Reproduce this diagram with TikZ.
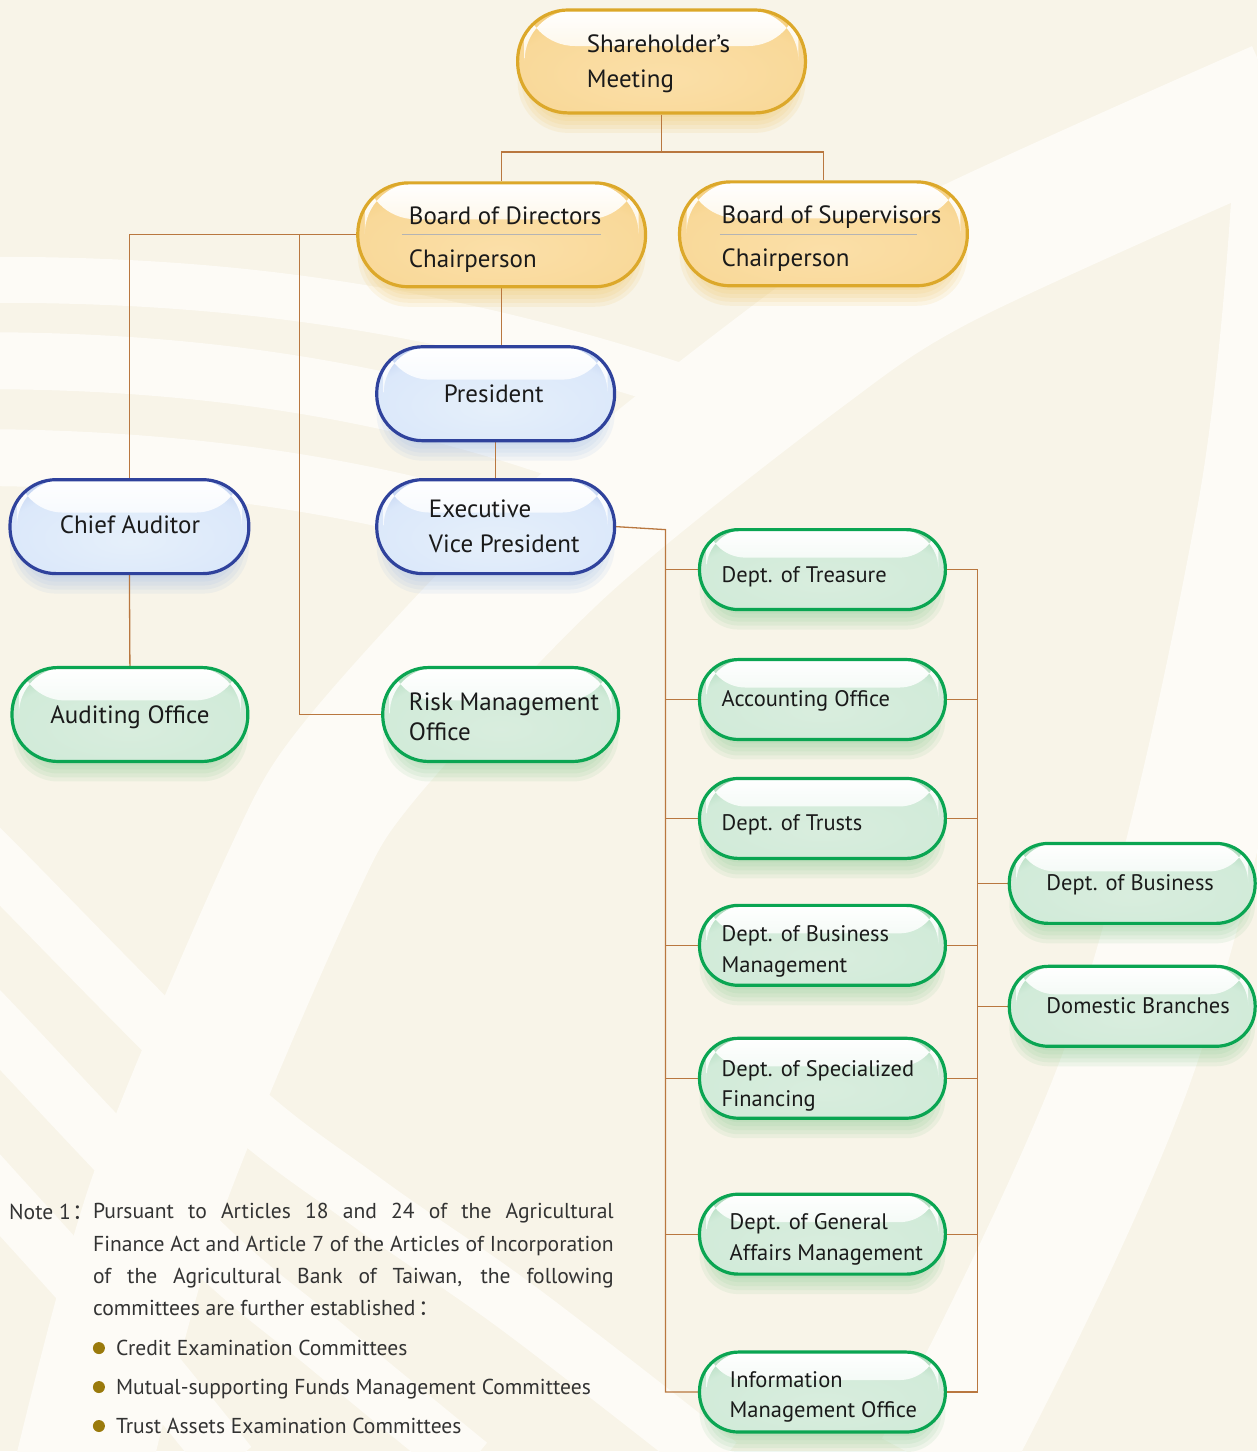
\documentclass[tikz,border=0pt]{standalone}
\usepackage{fontspec}
\setmainfont{PT Sans}
\newfontfamily\cjk{Noto Sans CJK SC}
\usetikzlibrary{calc}
\definecolor{bgc}{HTML}{F8F4E8}
\definecolor{wband}{HTML}{FDFBF6}
\definecolor{txt}{HTML}{1A1A1A}
\definecolor{notec}{HTML}{333333}
\definecolor{connc}{HTML}{B9773F}
\definecolor{goldline}{HTML}{DCA82A}
\definecolor{blueline}{HTML}{2F429C}
\definecolor{greenline}{HTML}{0AA552}
\definecolor{goldsh}{HTML}{EFC25A}
\definecolor{bluesh}{HTML}{9EBBE6}
\definecolor{greensh}{HTML}{86C991}
\definecolor{goldhl}{HTML}{FCEBC6}
\definecolor{bluehl}{HTML}{E8F1FB}
\definecolor{greenhl}{HTML}{E2F2E7}
\definecolor{bulc}{HTML}{9A7A0C}
\definecolor{divc}{HTML}{B4B4B4}
\pgfdeclareradialshading{goldglow}{\pgfpoint{0bp}{-8bp}}{rgb(0bp)=(0.984,0.875,0.66); rgb(26bp)=(0.976,0.85,0.6); rgb(38bp)=(0.95,0.79,0.45); rgb(46bp)=(0.91,0.71,0.24); rgb(70bp)=(0.88,0.67,0.17)}
\pgfdeclareradialshading{blueglow}{\pgfpoint{0bp}{-8bp}}{rgb(0bp)=(0.9,0.94,0.98); rgb(26bp)=(0.86,0.91,0.98); rgb(38bp)=(0.7,0.77,0.92); rgb(46bp)=(0.45,0.52,0.8); rgb(70bp)=(0.36,0.43,0.75)}
\pgfdeclareradialshading{greenglow}{\pgfpoint{0bp}{-8bp}}{rgb(0bp)=(0.85,0.93,0.87); rgb(26bp)=(0.82,0.92,0.85); rgb(38bp)=(0.6,0.82,0.67); rgb(46bp)=(0.22,0.67,0.42); rgb(70bp)=(0.12,0.62,0.35)}
\pgfdeclarelayer{bgl}
\pgfdeclarelayer{shl}
\pgfdeclarelayer{cnl}
\pgfsetlayers{bgl,shl,cnl,main}
\tikzset{
  pillbase/.style={draw, line width=3.2pt, inner sep=0pt,
    path picture={\shade[top color=white, bottom color=#1]
      ([xshift=7pt]path picture bounding box.north west) rectangle
      ($([xshift=-7pt]path picture bounding box.north east)!0.35!([xshift=-7pt]path picture bounding box.south east)$);}},
  goldpill/.style={pillbase=goldhl, shading=goldglow, draw=goldline},
  bluepill/.style={pillbase=bluehl, shading=blueglow, draw=blueline},
  greenpill/.style={pillbase=greenhl, shading=greenglow, draw=greenline},
  lbl/.style={anchor=base west, inner sep=0pt, text=txt, font=\fontsize{25}{29}\selectfont},
  clbl/.style={lbl, anchor=base},
  glbl/.style={lbl, font=\fontsize{22.5}{26}\selectfont},
  conn/.style={draw=connc, line width=1.3pt},
  divider/.style={draw=divc, line width=1pt},
  swoosh/.style={draw=wband, line cap=butt},
  notefont/.style={text=notec, font=\fontsize{21.6}{32.3}\selectfont},
}
\newcommand\pill[6]{%
  \pgfmathsetmacro\pw{#5-#3}%
  \pgfmathsetmacro\ph{#6-#4}%
  \pgfmathsetmacro\pr{\ph/2-1}%
  \pgfmathsetmacro\cx{(#3+#5)/2}%
  \pgfmathsetmacro\cy{(#4+#6)/2}%
  \begin{pgfonlayer}{shl}
  \foreach \s in {0,4,8,12,16}{%
    \pgfmathsetmacro\sr{(\ph-2*\s)/2-1}%
    \fill[#2sh, opacity=0.12, rounded corners=\sr pt] ({#3+\s},{#4+20+\s}) rectangle ({#5-\s},{#6+20-\s});
  }
  \end{pgfonlayer}
  \node[#2pill, minimum width=\pw pt, minimum height=\ph pt, rounded corners=\pr pt] (#1) at (\cx,\cy) {};
}
\begin{document}
\begin{tikzpicture}[x=1pt, y=-1pt]
\begin{pgfonlayer}{bgl}
  \fill[bgc] (0,0) rectangle (1258,1452);
  \useasboundingbox (0,0) rectangle (1258,1452);
  % left arcs
  \draw[swoosh, line width=46pt] (-5,280) .. controls (200,280) and (420,300) .. (690,390);
  \draw[swoosh, line width=57pt] (-5,361) .. controls (200,362) and (420,390) .. (640,480);
  \draw[swoosh, line width=57pt] (-5,458) .. controls (200,460) and (400,490) .. (560,550);
  % lower-left diagonals
  \draw[swoosh, line width=55pt] plot[smooth, tension=0.6] coordinates {(-90,777) (-10,857) (222,1090) (363,1200) (520,1310) (720,1465)};
  \draw[swoosh, line width=55pt] plot[smooth, tension=0.6] coordinates {(-90,937) (-10,1020) (200,1240) (330,1350) (470,1465)};
  \draw[swoosh, line width=55pt] plot[smooth, tension=0.6] coordinates {(-90,1097) (-10,1185) (120,1330) (230,1465)};
  % big sweeping band
  \draw[swoosh, line width=135pt] plot[smooth, tension=0.5] coordinates {(80,1480) (156,1200) (290,880) (361,760) (560,548) (800,355) (947,259) (1280,108)};
  % right band
  \draw[swoosh, line width=130pt] plot[smooth, tension=0.6] coordinates {(1300,150) (1262,520) (1135,1047) (940,1470)};
\end{pgfonlayer}

% pills
\pill{share}{gold}{518}{10}{806}{113}
\pill{bod}{gold}{358}{183}{646}{287}
\pill{bos}{gold}{680}{182}{968}{286}
\pill{pres}{blue}{377}{347}{615}{441}
\pill{evp}{blue}{377}{480}{615}{574}
\pill{chief}{blue}{10}{480}{249}{574}
\pill{audit}{green}{12}{668}{248}{762}
\pill{risk}{green}{383}{668}{619}{762}
\pill{treas}{green}{700}{530}{946}{610}
\pill{acct}{green}{700}{660}{946}{740}
\pill{trusts}{green}{700}{779}{946}{859}
\pill{bizm}{green}{700}{906}{946}{986}
\pill{spec}{green}{700}{1039}{946}{1119}
\pill{gen}{green}{700}{1195}{946}{1275}
\pill{info}{green}{700}{1353}{946}{1433}
\pill{biz}{green}{1010}{844}{1256}{924}
\pill{dom}{green}{1010}{967}{1256}{1047}

% connectors
\begin{pgfonlayer}{cnl}
  \coordinate (j1) at (662,152);
  \draw[conn] (share.south) -- (j1);
  \draw[conn] (bod.north) |- (j1) -| (bos.north);
  \draw[conn] (bod.west) -| (chief.north);
  \coordinate (j2) at (300,235);
  \draw[conn] (j2) |- (risk.west);
  \draw[conn] (bod.south) -- (bod.south |- pres.north);
  \draw[conn] (pres.south) -- (pres.south |- evp.north);
  \draw[conn] (chief.south) -- (audit.north);
  \coordinate (lb) at (666,530);
  \draw[conn] (evp.east) -- (lb) -- (lb |- info.west) -- (info.west);
  \foreach \d in {treas,acct,trusts,bizm,spec,gen}{\draw[conn] (lb |- \d.west) -- (\d.west);}
  \coordinate (rb) at (978,570);
  \draw[conn] (treas.east) -- (treas.east -| rb) -- (info.east -| rb) -- (info.east);
  \foreach \d in {acct,trusts,bizm,spec,gen}{\draw[conn] (\d.east) -- (\d.east -| rb);}
  \draw[conn] (biz.west -| rb) -- (biz.west);
  \draw[conn] (dom.west -| rb) -- (dom.west);
\end{pgfonlayer}

% dividers
\draw[divider] (402,235) -- (601,235);
\draw[divider] (720,235) -- (918,235);

% labels
\node[lbl] (t1) at (587,53) {Shareholder’s};
\node[lbl] (t2) at (587,88) {Meeting};
\node[lbl] (t3) at (409,225) {Board of Directors};
\node[lbl] (t4) at (409,268) {Chairperson};
\node[lbl] (t5) at (722,224) {Board of Supervisors};
\node[lbl] (t6) at (722,267) {Chairperson};
\node[clbl] (t7) at (494,403) {President};
\node[lbl] (t8) at (429,518) {Executive};
\node[lbl] (t9) at (429,553) {Vice President};
\node[clbl] (t10) at (130,534) {Chief Auditor};
\node[clbl] (t11) at (130,724) {Auditing Office};
\node[lbl] (t12) at (409,711) {Risk Management};
\node[lbl] (t13) at (409,741) {Office};
\node[glbl] (t14) at (722,583) {Dept. of Treasure};
\node[glbl] (t15) at (722,707) {Accounting Office};
\node[glbl] (t16) at (722,831) {Dept. of Trusts};
\node[glbl] (t17) at (722,942) {Dept. of Business};
\node[glbl] (t18) at (722,973) {Management};
\node[glbl] (t19) at (722,1077) {Dept. of Specialized};
\node[glbl] (t20) at (722,1107) {Financing};
\node[glbl] (t21) at (730,1230) {Dept. of General};
\node[glbl] (t22) at (730,1261) {Affairs Management};
\node[glbl] (t23) at (730,1388) {Information};
\node[glbl] (t24) at (730,1418) {Management Office};
\node[glbl] (t25) at (1047,891) {Dept. of Business};
\node[glbl] (t26) at (1047,1014) {Domestic Branches};

% note
\node[anchor=base west, inner sep=0pt, notefont] (n0) at (9,1220) {Note 1\hspace{2pt}{\cjk ：}};
\node[anchor=north west, inner sep=0pt, text width=521pt, align=justify, notefont] (n1) at (93,1204) {Pursuant to Articles 18 and 24 of the Agricultural\linebreak Finance Act and Article 7 of the Articles of Incorporation\linebreak of the Agricultural Bank of Taiwan, the following\linebreak committees are further established\hspace{3pt}{\cjk ：}};
\foreach \yy/\tt [count=\i] in {1349/Credit Examination Committees, 1388/Mutual-supporting Funds Management Committees, 1427/Trust Assets Examination Committees}{
  \fill[bulc] (99,\yy) circle (6pt);
  \node[anchor=base west, inner sep=0pt, notefont] (b\i) at (116,\yy+7.5) {\tt};
}
\end{tikzpicture}
\end{document}
